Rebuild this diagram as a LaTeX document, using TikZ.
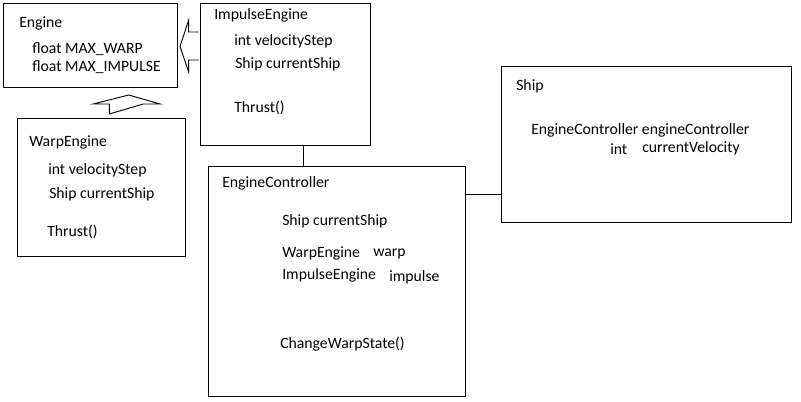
\documentclass[tikz,border=0pt]{standalone}
\usepackage{fontspec}
\setmainfont{Carlito}
\begin{document}
\begin{tikzpicture}[x=0.75pt,y=-0.75pt,
  box/.style={draw=black,line width=0.75pt,rectangle,anchor=north west,inner sep=0pt},
  txt/.style={anchor=base west,inner sep=0pt,font=\fontsize{11.8}{14}\selectfont},
  blockarrow/.style={draw=black,line width=0.7pt,fill=white,line join=miter}]
\useasboundingbox (0,0) rectangle (801,402);
% boxes
\node[box,minimum width=130.5pt,minimum height=63pt] (eng) at (3,3) {};
\node[box,minimum width=127.5pt,minimum height=106.5pt] (imp) at (200,3) {};
\node[box,minimum width=126pt,minimum height=103.5pt] (warp) at (17,118) {};
\node[box,minimum width=192.75pt,minimum height=172.5pt] (ctrl) at (207.5,166) {};
\node[box,minimum width=217.5pt,minimum height=117pt] (ship) at (501,66) {};
% Engine texts
\node[txt] (engT) at (19,28) {Engine};
\node[txt] (engA) at (32,54) {float MAX\_WARP};
\node[txt] (engB) at (32,72) {float MAX\_IMPULSE};
% ImpulseEngine texts
\node[txt] (impT) at (214,20) {ImpulseEngine};
\node[txt] (impA) at (234,46) {int velocityStep};
\node[txt] (impB) at (235,69) {Ship currentShip};
\node[txt] (impC) at (234,113) {Thrust()};
% WarpEngine texts
\node[txt] (warpT) at (29,147) {WarpEngine};
\node[txt] (warpA) at (48,175) {int velocityStep};
\node[txt] (warpB) at (49,199) {Ship currentShip};
\node[txt] (warpC) at (47,237) {Thrust()};
% EngineController texts
\node[txt] (ctrlT) at (222,188) {EngineController};
\node[txt] (ctrlA) at (282,226) {Ship currentShip};
\node[txt] (ctrlB) at (282,258) {WarpEngine};
\node[txt] (ctrlB2) at (373,257) {warp};
\node[txt] (ctrlC) at (282,280) {ImpulseEngine};
\node[txt] (ctrlC2) at (389,282) {impulse};
\node[txt] (ctrlD) at (280,349) {ChangeWarpState()};
% Ship texts
\node[txt] (shipT) at (516,91) {Ship};
\node[txt] (shipA) at (531,135) {EngineController engineController};
\node[txt] (shipB) at (610,155) {int};
\node[txt] (shipB2) at (642,153) {currentVelocity};
% block arrows (generalization)
\draw[blockarrow] (198.5,32) -- (188.7,32) -- (188.7,20) -- (180,46.5) -- (188.7,72) -- (188.7,60) -- (198.5,60);
\draw[blockarrow] (109.3,114) -- (109.3,104) -- (93.3,104) -- (128.7,95) -- (160,104) -- (143.3,104) -- cycle;
% connectors
\coordinate (jx) at (303,0);
\coordinate (jy) at (0,195);
\draw[line width=0.75pt] (imp.south -| jx) -- (ctrl.north -| jx);
\draw[line width=0.75pt] (ctrl.east |- jy) -- (ship.west |- jy);
\end{tikzpicture}
\end{document}
